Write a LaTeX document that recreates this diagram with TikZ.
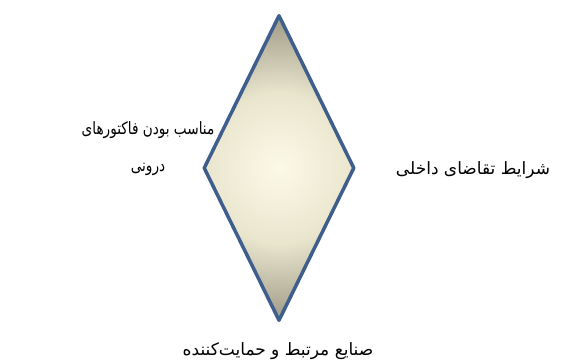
\documentclass[tikz,border=0pt]{standalone}
\usepackage{fontspec}
\usetikzlibrary{shapes.geometric}
\TeXXeTstate=1
\newfontfamily\arabicfont[Script=Arabic]{DejaVu Sans}
\newfontfamily\arabicnarrow[Script=Arabic, FakeStretch=0.8]{DejaVu Sans}
\definecolor{dmblue}{RGB}{62,95,142}
\definecolor{dmcream}{RGB}{252,249,232}
\definecolor{dmmid}{RGB}{234,229,205}
\definecolor{dmtip}{RGB}{155,151,131}
\pgfdeclareradialshading{dmglow}{\pgfpoint{0bp}{0bp}}{%
  color(0bp)=(dmcream); color(12bp)=(dmmid); color(25bp)=(dmtip); color(50bp)=(dmtip)}

\begin{document}
\begin{tikzpicture}[x=1pt, y=-1pt,
    label/.style={font=\arabicfont\fontsize{17}{36}\selectfont, align=center, inner sep=0pt}
  ]
    \useasboundingbox (0,0) rectangle (561,362);

    % Diamond
    \node[diamond, draw=dmblue, line width=3.5pt, line join=round, inner sep=0pt,
          minimum width=151pt, minimum height=306pt,
          path picture={\shade[shading=dmglow]
            (path picture bounding box.center) circle (156pt);}]
      (diamond) at (279,168) {};

    % Labels
    \node[label, font=\arabicnarrow\fontsize{17}{37}\selectfont] (factors) at (148,149)
      {\beginR مناسب بودن فاکتورهای\endR\\\beginR درونی\endR};
    \node[label] (demand) at (473,170) {\beginR شرایط تقاضای داخلی\endR};
    \node[label] (related) at (278,351) {\beginR صنایع مرتبط و حمایت‌کننده\endR};
  \end{tikzpicture}
\end{document}
